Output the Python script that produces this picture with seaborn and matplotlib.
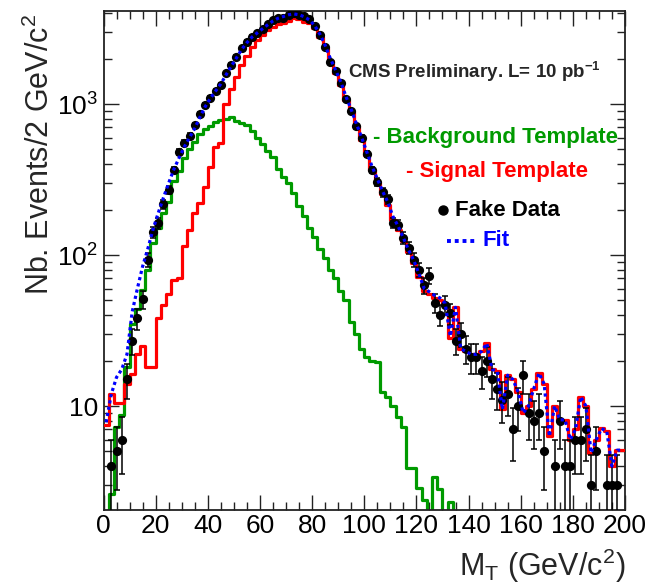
import numpy as np
import pandas as pd
import matplotlib
matplotlib.use("Agg")
import matplotlib.pyplot as plt
import seaborn as sns
from matplotlib.ticker import FixedLocator, FixedFormatter, MultipleLocator, NullFormatter
from matplotlib.lines import Line2D

# ---------------- data (2 GeV bins, 0-200) ----------------
bin_width = 2
x_min, x_max = 0, 200

fake_data = [0, 4, 5, 6, 15, 27, 38, 51, 93, 141,
             162, 218, 269, 366, 483, 554, 614, 726, 856, 985,
             1091, 1218, 1336, 1597, 1813, 2056, 2339, 2587, 2792, 2939,
             3138, 3371, 3597, 3696, 3733, 3885, 3981, 3885, 3800, 3640,
             3290, 2850, 2380, 1906, 1650, 1383, 1074, 900, 715, 595,
             467, 366, 306, 260, 234, 164, 158, 130, 112, 93,
             80, 63, 73, 48, 40, 47, 41, 27, 30, 24,
             21, 21, 17, 20, 15, 13, 11, 12, 7, 10,
             16, 9, 8, 9, 5, 0, 4, 8, 4, 4,
             6, 6, 7, 3, 5, 0, 3, 3, 3, 0]

signal_template = [7.5, 12, 10.4, 10.4, 14, 16.4, 22, 25, 18, 18,
                   38, 47, 55, 68, 70, 114, 146, 189, 220, 283,
                   384, 521, 549, 1000, 1250, 1500, 1800, 2080, 2400, 2650,
                   2880, 3080, 3250, 3370, 3440, 3550, 3690, 3650, 3500, 3450,
                   3170, 2790, 2355, 1920, 1610, 1340, 1070, 884, 710, 576,
                   459, 365, 300, 253, 214, 170, 147, 123, 104, 88,
                   72, 58, 55, 52, 50, 47, 28, 45, 24, 23,
                   22, 22, 23, 26, 17.5, 17, 9.5, 16, 15, 12.4,
                   9, 10, 13, 16.5, 14, 6.3, 10, 8.1, 8.1, 6,
                   7, 11.5, 10, 4.9, 6, 7.1, 6.8, 4.0, 5.1, 5.1]

background_template = [0.5, 2.6, 7.3, 8.7, 18, 35, 44, 59, 80, 120,
                       150, 190, 225, 310, 360, 440, 500, 560, 630, 680,
                       720, 760, 783, 790, 815, 775, 745, 727, 660, 600,
                       540, 490, 445, 370, 330, 299, 256, 210, 180, 150,
                       132, 110, 95, 80, 70, 58, 50, 36, 30, 24,
                       21, 20, 19.7, 12.4, 11.5, 10, 8.5, 7.3, 3.9, 3.9,
                       2.85, 2.4, 0.5, 3.4, 2.8, 0.5, 2.3, 0.5, 0.5, 0.5,
                       0.5, 0.5, 0.5, 0.5, 0.5, 0.5, 0.5, 0.5, 0.5, 0.5,
                       0.5, 0.5, 0.5, 0.5, 0.5, 0.5, 0.5, 0.5, 0.5, 0.5,
                       0.5, 0.5, 0.5, 0.5, 0.5, 0.5, 0.5, 0.5, 0.5, 0.5]

fit_values = [7.8, 12, 15.5, 17.5, 22, 42, 60, 84, 110, 148,
              190, 240, 300, 370, 440, 520, 600, 690, 820, 960,
              1090, 1220, 1360, 1560, 1780, 2020, 2300, 2550, 2780, 2960,
              3150, 3350, 3550, 3700, 3800, 3900, 3950, 3900, 3780, 3600,
              3300, 2900, 2450, 2000, 1680, 1400, 1120, 920, 740, 600,
              480, 385, 320, 265, 225, 180, 155, 130, 108, 92,
              75, 60, 57, 54, 52, 48, 29, 45, 24, 23,
              22, 22, 23, 26, 17.5, 17, 9.5, 16, 15, 12.4,
              9, 10, 13, 16.5, 14, 6.3, 10, 8.1, 8.1, 6,
              7, 11.5, 10, 4.9, 6, 7.1, 6.8, 4.0, 5.1, 5.1]

x_ticks = [0, 20, 40, 60, 80, 100, 120, 140, 160, 180, 200]
y_ticks = [10, 100, 1000]
y_tick_labels = ['10', r'$10^{2}$', r'$10^{3}$']

# ---------------- style ----------------
sns.set_theme(style="ticks")
plt.rcParams['font.family'] = ['Liberation Sans', 'DejaVu Sans']
plt.rcParams['mathtext.fontset'] = 'custom'
plt.rcParams['mathtext.rm'] = 'Liberation Sans'
plt.rcParams['mathtext.it'] = 'Liberation Sans:italic'
plt.rcParams['mathtext.bf'] = 'Liberation Sans:bold'

GREEN = '#009a00'
RED = '#ff0000'
BLUE = '#0000ff'

W, H = 657, 586
fig = plt.figure(figsize=(W / 100, H / 100), dpi=100)
fig.patch.set_facecolor('white')
ax = fig.add_axes([103.5 / W, (H - 509.5) / H, (625 - 103.5) / W, (509.5 - 11) / H])

edges = np.arange(x_min, x_max + bin_width, bin_width)
centers = edges[:-1] + bin_width / 2


def stairs_frame(vals):
    return pd.DataFrame({'x': edges, 'y': list(vals) + [vals[-1]]})


sns.lineplot(data=stairs_frame(background_template), x='x', y='y', ax=ax,
             drawstyle='steps-post', color=GREEN, lw=2.3, estimator=None, sort=False, zorder=2)
sns.lineplot(data=stairs_frame(signal_template), x='x', y='y', ax=ax,
             drawstyle='steps-post', color=RED, lw=2.3, estimator=None, sort=False, zorder=3)

d = np.array(fake_data, dtype=float)
m = d > 0
ax.errorbar(centers[m], d[m], yerr=np.sqrt(d[m]), fmt='none', ecolor='black',
            elinewidth=1.1, capsize=2.2, capthick=1.1, zorder=4)
sns.scatterplot(x=centers[m], y=d[m], ax=ax, color='black', s=44, linewidth=0, zorder=5)

sns.lineplot(x=centers, y=fit_values, ax=ax, color=BLUE, lw=2.3,
             linestyle=(0, (1, 1)), dash_capstyle='butt', estimator=None, sort=False, zorder=6)

ax.set_yscale('log')
ax.set_xlim(x_min, x_max)
ax.set_ylim(2.064, 4130)

ax.xaxis.set_major_locator(FixedLocator(x_ticks))
ax.xaxis.set_minor_locator(MultipleLocator(5))
ax.yaxis.set_major_locator(FixedLocator(y_ticks))
ax.yaxis.set_major_formatter(FixedFormatter(y_tick_labels))
minor_y = [k * 10 ** e for e in range(0, 4) for k in range(2, 10)]
ax.yaxis.set_minor_locator(FixedLocator([v for v in minor_y if 2 <= v <= 4130]))
ax.yaxis.set_minor_formatter(NullFormatter())

ax.tick_params(which='both', direction='in', top=True, right=True, colors='#222222',
               labelcolor='black', labelsize=19)
ax.tick_params(which='major', length=11, width=1.0)
ax.tick_params(which='minor', length=5.5, width=1.0)
ax.tick_params(axis='x', pad=3)
ax.tick_params(axis='y', pad=4)
for s in ax.spines.values():
    s.set_linewidth(1.3)
    s.set_color('#222222')
ax.set_xlabel('')
ax.set_ylabel('')

# axis titles (ROOT style)
fig.text(40 / W, 1 - 14 / H, r'Nb. Events/2 GeV/c$^{2}$', rotation=90,
         ha='center', va='top', fontsize=22)
fig.text(625 / W, 1 - 566 / H, r'M$_{\mathrm{T}}$ (GeV/c$^{2}$)', ha='right', va='center', fontsize=22)

# annotations / legend
fig.text(348 / W, 1 - 72 / H, r'CMS Preliminary. L= 10 pb$^{\mathbf{-1}}$',
         fontsize=13.5, fontweight='bold', ha='left', va='center')
fig.text(373 / W, 1 - 137.5 / H, '- Background Template', color=GREEN,
         fontsize=16, fontweight='bold', ha='left', va='center')
fig.text(406 / W, 1 - 172 / H, '- Signal Template', color=RED,
         fontsize=16, fontweight='bold', ha='left', va='center')
fig.text(455 / W, 1 - 210 / H, 'Fake Data', color='black',
         fontsize=16, fontweight='bold', ha='left', va='center')
fig.text(483 / W, 1 - 241 / H, 'Fit', color=BLUE,
         fontsize=16, fontweight='bold', ha='left', va='center')
fig.add_artist(Line2D([443 / W], [1 - 210 / H], marker='o', markersize=6.5,
                      color='black', transform=fig.transFigure))
fig.add_artist(Line2D([447 / W, 476 / W], [1 - 241 / H, 1 - 241 / H], lw=2.8,
                      color=BLUE, linestyle=(0, (1, 1)), dash_capstyle='butt',
                      transform=fig.transFigure))

fig.savefig('out.png', dpi=100)
